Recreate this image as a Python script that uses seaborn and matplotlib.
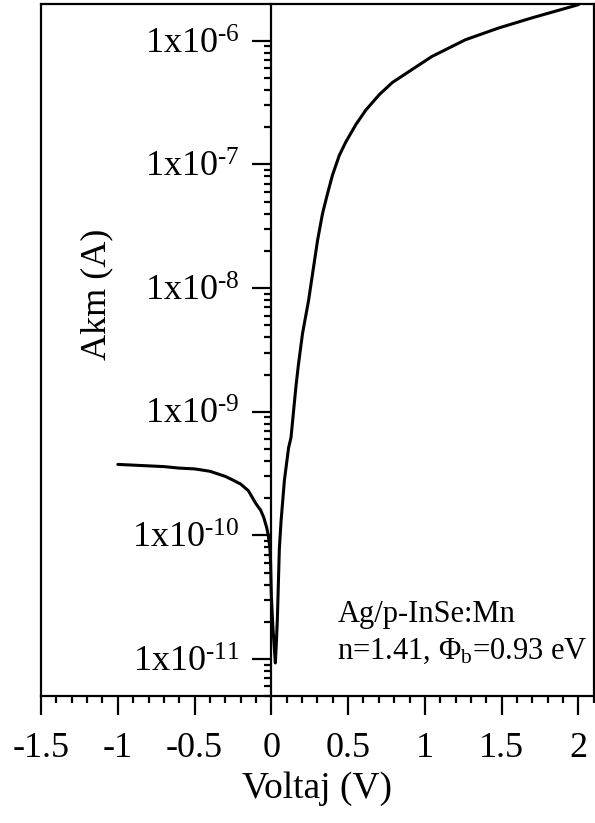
import matplotlib
matplotlib.use("Agg")
import matplotlib.pyplot as plt
import matplotlib.ticker as mticker
import numpy as np
import pandas as pd
import seaborn as sns

# I-V data (voltage in V, current in A)
voltage = [-1.0, -0.9, -0.8, -0.7, -0.6, -0.5, -0.4, -0.3, -0.25, -0.2, -0.15,
           -0.1, -0.07, -0.05, -0.03, -0.02, -0.01, -0.005, 0.0, 0.01, 0.026,
           0.033, 0.039, 0.052, 0.063, 0.085, 0.112, 0.128, 0.16, 0.177, 0.203,
           0.242, 0.268, 0.301, 0.333, 0.366, 0.398, 0.442, 0.485, 0.55, 0.615,
           0.701, 0.788, 0.896, 1.045, 1.264, 1.481, 1.695, 2.0]
current = [3.75e-10, 3.7e-10, 3.65e-10, 3.6e-10, 3.5e-10, 3.45e-10, 3.3e-10,
           3.0e-10, 2.8e-10, 2.6e-10, 2.3e-10, 1.8e-10, 1.6e-10, 1.4e-10,
           1.15e-10, 1.0e-10, 8.0e-11, 6.0e-11, 3.2e-11, 1.8e-11, 9.3e-12,
           1.4e-11, 2.1e-11, 7.8e-11, 1.3e-10, 2.8e-10, 5.1e-10, 6.2e-10,
           1.6e-9, 2.45e-9, 4.3e-9, 7.9e-9, 1.3e-8, 2.44e-8, 4.0e-8, 5.83e-8,
           8.2e-8, 1.18e-7, 1.52e-7, 2.1e-7, 2.75e-7, 3.65e-7, 4.6e-7,
           5.64e-7, 7.46e-7, 1.02e-6, 1.27e-6, 1.53e-6, 1.96e-6]

x_ticks = [-1.5, -1, -0.5, 0, 0.5, 1, 1.5, 2]
x_tick_labels = ["-1.5", "-1", "-0.5", "0", "0.5", "1", "1.5", "2"]
y_ticks = [1e-11, 1e-10, 1e-9, 1e-8, 1e-7, 1e-6]
y_exponents = [-11, -10, -9, -8, -7, -6]

sns.set_theme(style="white")
plt.rcParams["font.family"] = ["Liberation Serif", "DejaVu Serif"]
plt.rcParams["mathtext.fontset"] = "custom"
plt.rcParams["mathtext.rm"] = "Liberation Serif"
plt.rcParams["mathtext.it"] = "Liberation Serif:italic"
plt.rcParams["axes.unicode_minus"] = False

df = pd.DataFrame({"Voltaj": voltage, "Akim": current})

fig = plt.figure(figsize=(5.95, 8.23), dpi=100)
ax = fig.add_axes([0.069, 0.154, 0.929, 0.841])

sns.lineplot(data=df, x="Voltaj", y="Akim", color="black", linewidth=2.2,
             estimator=None, sort=False, ax=ax)

ax.set_yscale("log")
ax.set_xlim(-1.5, 2.1)
ax.set_ylim(5.0e-12, 1.98e-6)

# y axis sits at V = 0, outer frame drawn by the other spines
ax.spines["left"].set_position(("data", 0))
for s in ["left", "right", "top", "bottom"]:
    ax.spines[s].set_linewidth(1.6)
    ax.spines[s].set_color("black")
ax.plot([0, 0], [0, 1], transform=ax.transAxes, color="black", lw=1.6,
        clip_on=False)

ax.set_xticks(x_ticks)
ax.set_xticklabels(x_tick_labels)
ax.xaxis.set_minor_locator(mticker.MultipleLocator(0.1))
ax.set_yticks(y_ticks)
ax.set_yticklabels([r"1x10$^{\text{%d}}$" % e for e in y_exponents])
ax.yaxis.set_minor_locator(mticker.LogLocator(base=10, subs=np.arange(2, 10)))
ax.yaxis.set_minor_formatter(mticker.NullFormatter())

ax.tick_params(axis="both", which="major", direction="out", length=14,
               width=1.6, color="black", labelcolor="black")
ax.tick_params(axis="x", which="major", pad=12, labelsize=26)
ax.tick_params(axis="y", which="major", pad=9, labelsize=26)
ax.tick_params(axis="both", which="minor", direction="out", length=5,
               width=1.6, color="black")
ax.tick_params(left=True, bottom=True, which="both")

ax.set_xlabel("Voltaj (V)", fontsize=27, color="black", labelpad=4)
ax.set_ylabel("")
fig.text(97 / 595, 1 - 294 / 823, "Akm (A)", rotation=90, fontsize=26,
         ha="center", va="center", color="black")

ax.text(0.43, 2.0e-11, "Ag/p-InSe:Mn", fontsize=22, color="black",
        ha="left", va="baseline")
ax.text(0.43, 1.0e-11, r"n=1.41, $\Phi_\mathregular{b}$=0.93 eV", fontsize=22,
        color="black", ha="left", va="baseline")

fig.savefig("out.png", dpi=100)
